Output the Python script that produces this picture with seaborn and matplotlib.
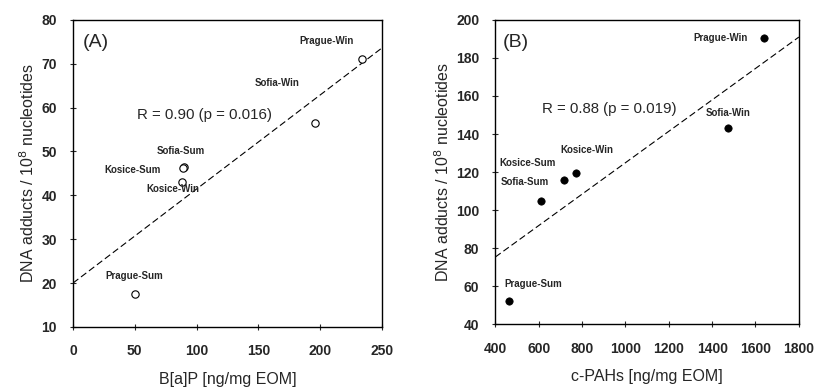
import matplotlib
matplotlib.use("Agg")
import matplotlib.pyplot as plt
import seaborn as sns
import pandas as pd

# ---- data panel A ----
labels_a = ["Prague-Win", "Sofia-Win", "Sofia-Sum", "Kosice-Sum", "Kosice-Win", "Prague-Sum"]
bap = [234, 196, 90, 89, 88, 50]
adducts_a = [71.0, 56.5, 46.5, 46.2, 43.0, 17.5]
fit_a_x = [0, 250]
fit_a_y = [20.0, 73.6]
label_pos_a_x = [183, 147, 68, 25, 59, 26]
label_pos_a_y = [75.2, 65.7, 50.0, 45.7, 41.4, 21.6]

# ---- data panel B ----
labels_b = ["Prague-Win", "Sofia-Win", "Kosice-Win", "Kosice-Sum", "Sofia-Sum", "Prague-Sum"]
cpah = [1640, 1474, 773, 718, 612, 465]
adducts_b = [190.5, 143.0, 119.5, 116.0, 104.7, 52.0]
fit_b_x = [400, 1800]
fit_b_y = [75.3, 191.0]
label_pos_b_x = [1312, 1372, 700, 418, 423, 441]
label_pos_b_y = [190.5, 151.0, 131.6, 124.7, 114.7, 61.0]

xticks_a = [0, 50, 100, 150, 200, 250]
yticks_a = [10, 20, 30, 40, 50, 60, 70, 80]
xticks_b = [400, 600, 800, 1000, 1200, 1400, 1600, 1800]
yticks_b = [40, 60, 80, 100, 120, 140, 160, 180, 200]

sns.set_style("ticks")
plt.rcParams['font.family'] = ['Liberation Sans', 'DejaVu Sans']

fig = plt.figure(figsize=(8.16, 3.91), dpi=100)
axA = fig.add_axes([0.0895, 0.164, 0.3785, 0.785])
axB = fig.add_axes([0.607, 0.171, 0.372, 0.778])

dfa = pd.DataFrame({"x": bap, "y": adducts_a})
dfb = pd.DataFrame({"x": cpah, "y": adducts_b})

sns.lineplot(x=fit_a_x, y=fit_a_y, ax=axA, color="black", lw=0.8,
             linestyle=(0, (6, 3)))
sns.scatterplot(data=dfa, x="x", y="y", ax=axA, marker="o", s=28,
                facecolor="white", edgecolor="black", linewidth=0.8, zorder=3)
sns.lineplot(x=fit_b_x, y=fit_b_y, ax=axB, color="black", lw=0.8,
             linestyle=(0, (6, 3)))
sns.scatterplot(data=dfb, x="x", y="y", ax=axB, marker="o", s=28,
                color="black", edgecolor="black", linewidth=0.5, zorder=3)

for lab, x, y in zip(labels_a, label_pos_a_x, label_pos_a_y):
    axA.text(x, y, lab, fontsize=7, fontweight="bold", va="center", ha="left")
for lab, x, y in zip(labels_b, label_pos_b_x, label_pos_b_y):
    axB.text(x, y, lab, fontsize=7, fontweight="bold", va="center", ha="left")

axA.text(52, 58.4, "R = 0.90 (p = 0.016)", fontsize=10.8, va="center", ha="left")
axB.text(617, 153, "R = 0.88 (p = 0.019)", fontsize=10.8, va="center", ha="left")
axA.text(0.03, 0.955, "(A)", transform=axA.transAxes, fontsize=14, va="top", ha="left")
axB.text(0.025, 0.955, "(B)", transform=axB.transAxes, fontsize=14, va="top", ha="left")

for ax, xt, yt, xl in [(axA, xticks_a, yticks_a, "B[a]P [ng/mg EOM]"),
                       (axB, xticks_b, yticks_b, "c-PAHs [ng/mg EOM]")]:
    ax.set_xticks(xt)
    ax.set_yticks(yt)
    ax.set_xlim(xt[0], xt[-1])
    ax.set_ylim(yt[0], yt[-1])
    ax.set_xlabel(xl, fontsize=11.5, labelpad=10)
    ax.set_ylabel("DNA adducts / 10$^{8}$ nucleotides", fontsize=11.5, labelpad=3)
    ax.tick_params(direction="inout", length=5, width=0.8, labelsize=10)
    ax.tick_params(axis="x", pad=10)
    ax.tick_params(axis="y", pad=9)
    for t in ax.get_xticklabels() + ax.get_yticklabels():
        t.set_fontweight("bold")
    for sp in ax.spines.values():
        sp.set_visible(True)
        sp.set_linewidth(1.0)
        sp.set_color("black")

fig.savefig("out.png", dpi=100, facecolor="white")
